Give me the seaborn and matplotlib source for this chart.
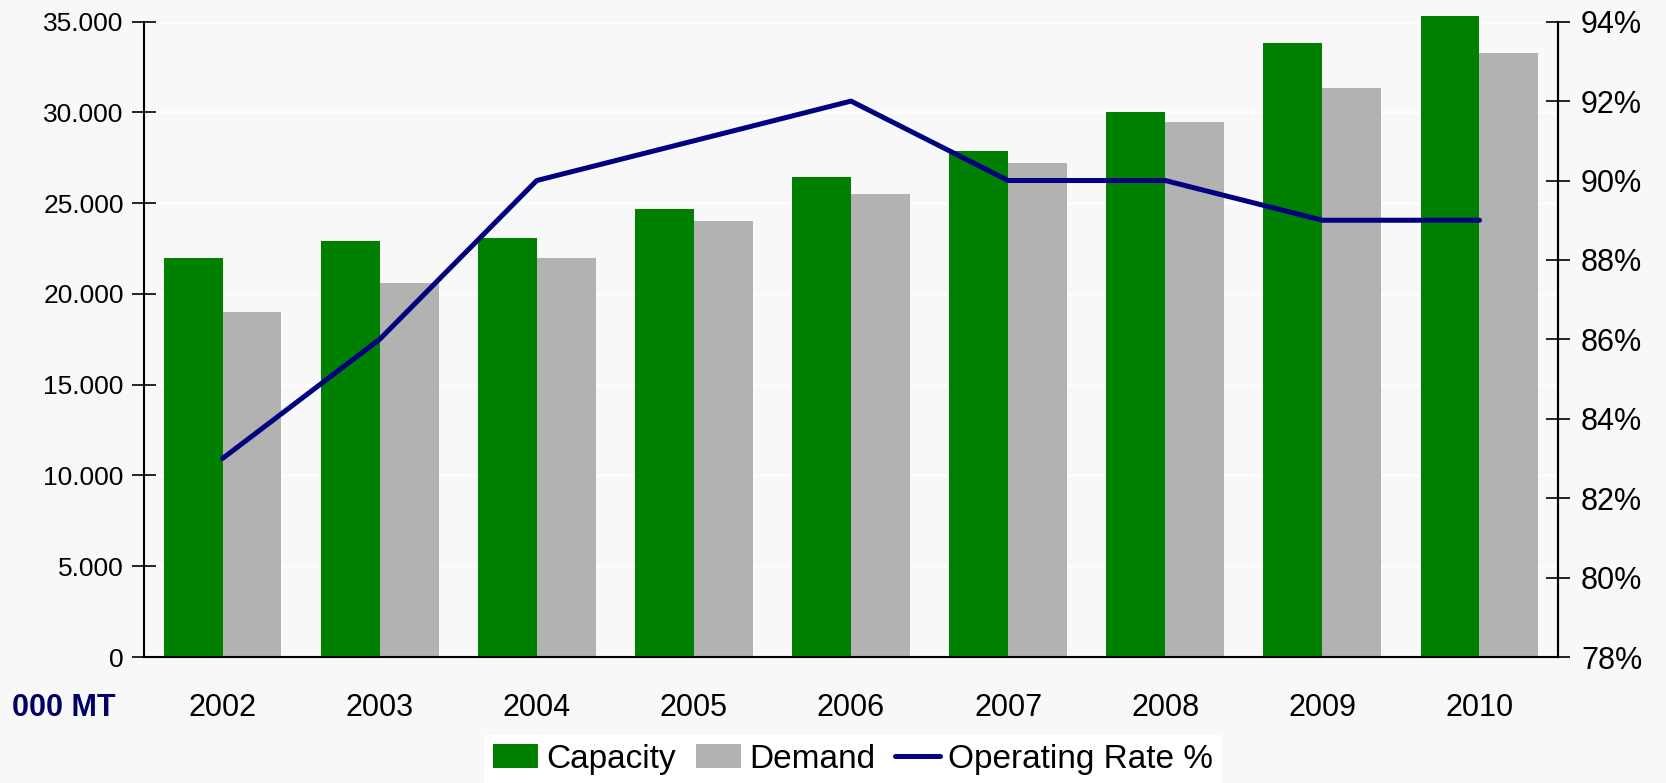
import numpy as np
import pandas as pd
import matplotlib
matplotlib.use('Agg')
import matplotlib.pyplot as plt
import seaborn as sns
from matplotlib.ticker import FuncFormatter, FixedLocator

# Данные (тыс. тонн и коэффициент загрузки)
years = ['2002', '2003', '2004', '2005', '2006', '2007', '2008', '2009', '2010']
capacity = [22000, 22900, 23100, 24700, 26450, 27900, 30000, 33800, 35300]
demand = [19000, 20600, 22000, 24000, 25500, 27200, 29500, 31350, 33300]
operating_rate = [0.83, 0.86, 0.90, 0.91, 0.92, 0.90, 0.90, 0.89, 0.89]

bg = '#F8F8F8'
sns.set_style('white', rc={'axes.facecolor': bg, 'figure.facecolor': bg,
                           'text.color': 'black', 'xtick.color': 'black',
                           'ytick.color': 'black', 'axes.labelcolor': 'black'})
plt.rcParams['font.family'] = ['Liberation Sans', 'DejaVu Sans']

df = pd.DataFrame({
    'year': years * 2,
    'value': capacity + demand,
    'series': ['Capacity'] * len(years) + ['Demand'] * len(years),
})

fig = plt.figure(figsize=(16.66, 7.83), dpi=100)
ax = fig.add_axes([0.0864, 0.1609, 0.8488, 0.8114])

sns.barplot(data=df, x='year', y='value', hue='series', order=years,
            palette={'Capacity': '#008000', 'Demand': '#B2B2B2'},
            width=0.75, saturation=1, ax=ax, errorbar=None, linewidth=0)
# столбец 2010 выходит за верх оси, как в оригинале
for p in ax.patches:
    p.set_clip_on(False)

ax.set_xlim(-0.5, len(years) - 0.5)
ax.set_ylim(0, 35000)
ax.set_yticks(np.arange(0, 35001, 5000))
ax.yaxis.set_major_formatter(FuncFormatter(lambda v, p: f'{int(v):,}'.replace(',', '.')))
ax.set_xlabel('')
ax.set_ylabel('')
ax.grid(axis='y', color='white', linewidth=1.8)
ax.set_axisbelow(True)

# подписи лет по центру, засечки на границах категорий
ax.set_xticks(range(len(years)))
ax.set_xticklabels(years)
ax.xaxis.set_minor_locator(FixedLocator(np.arange(-0.5, len(years), 1)))
ax.tick_params(axis='x', which='major', length=0, pad=26, labelsize=22, labelcolor='black')
ax.tick_params(axis='x', which='minor', direction='inout', length=20, width=1.2, color='black')
ax.tick_params(axis='y', direction='inout', length=17, width=1.2, color='black',
               pad=6, labelsize=19, left=True, labelcolor='black')

for s in ['left', 'bottom', 'right']:
    ax.spines[s].set_visible(True)
    ax.spines[s].set_color('black')
    ax.spines[s].set_linewidth(1.5)
ax.spines['top'].set_visible(False)

# вторая ось: коэффициент загрузки
ax2 = ax.twinx()
sns.lineplot(x=np.arange(len(years)), y=operating_rate, ax=ax2, color='#000080',
             linewidth=3.6, label='Operating Rate %', legend=False)
ax2.set_ylim(0.78, 0.94)
ax2.set_yticks(np.arange(0.78, 0.9401, 0.02))
ax2.yaxis.set_major_formatter(FuncFormatter(lambda v, p: f'{v * 100:.0f}%'))
ax2.tick_params(axis='y', direction='inout', length=17, width=1.2, color='black',
                pad=8, labelsize=22, right=True, labelcolor='black')
ax2.spines['top'].set_visible(False)
ax2.spines['right'].set_color('black')
ax2.spines['right'].set_linewidth(1.5)
ax2.spines['left'].set_visible(False)
ax2.spines['bottom'].set_visible(False)

fig.text(0.007, 0.096, '000 MT', fontsize=22, fontweight='bold', color='#000066',
         ha='left', va='center')

# легенда внизу
h1, l1 = ax.get_legend_handles_labels()
h2, l2 = ax2.get_legend_handles_labels()
if ax.get_legend() is not None:
    ax.get_legend().remove()
leg = fig.legend(h1 + h2, l1 + l2, loc='lower center', bbox_to_anchor=(0.512, 0.0),
                 ncol=3, frameon=True, fancybox=False, framealpha=1, fontsize=24,
                 borderaxespad=0, borderpad=0.25, handlelength=1.35,
                 handletextpad=0.25, columnspacing=0.6, handleheight=0.7)
leg.get_frame().set_facecolor('white')
leg.get_frame().set_edgecolor('white')
leg.get_frame().set_linewidth(0)
for t in leg.get_texts():
    t.set_color('black')

plt.savefig('out.png', dpi=100, facecolor=bg)
plt.close()
